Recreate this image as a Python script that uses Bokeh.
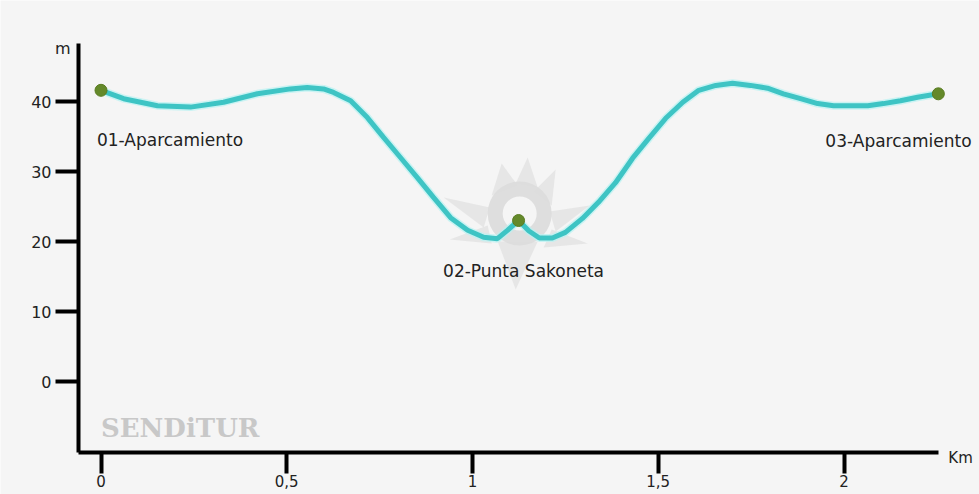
from bokeh.plotting import figure
from bokeh.models import Label, FixedTicker, Range1d, CustomJSTickFormatter
from bokeh.embed import file_html
from bokeh.resources import INLINE

# ---- data ----
dist_km = [0.000, 0.061, 0.152, 0.241, 0.330, 0.421, 0.510, 0.555, 0.599, 0.626,
           0.672, 0.717, 0.760, 0.806, 0.852, 0.895, 0.941, 0.987, 1.030, 1.067,
           1.094, 1.124, 1.152, 1.180, 1.215, 1.250, 1.296, 1.339, 1.385, 1.431,
           1.474, 1.520, 1.566, 1.609, 1.655, 1.700, 1.748, 1.794, 1.837, 1.883,
           1.929, 1.972, 2.018, 2.064, 2.106, 2.152, 2.198, 2.254]
elev_m = [41.6, 40.4, 39.4, 39.2, 39.9, 41.1, 41.8, 42.0, 41.8, 41.3,
          40.1, 37.7, 34.9, 32.0, 29.1, 26.3, 23.4, 21.6, 20.6, 20.4,
          21.6, 23.0, 21.5, 20.5, 20.5, 21.3, 23.3, 25.6, 28.4, 31.9,
          34.7, 37.6, 39.9, 41.6, 42.3, 42.6, 42.3, 41.9, 41.1, 40.4,
          39.7, 39.4, 39.4, 39.4, 39.7, 40.1, 40.6, 41.1]

wp_names = ["01-Aparcamiento", "02-Punta Sakoneta", "03-Aparcamiento"]
wp_km = [0.0, 1.124, 2.254]
wp_m = [41.6, 23.0, 41.1]

x_ticks = [0, 0.5, 1, 1.5, 2]
x_tick_labels = ["0", "0,5", "1", "1,5", "2"]
y_ticks = [0, 10, 20, 30, 40]
x_unit = "Km"
y_unit = "m"
watermark = "SENDiTUR"

# ---- layout: the frame fills the whole canvas, axes sit inside it ----
W, H = 979, 494
BG = "#f5f5f5"
px_per_km = 371.5
px_per_m = 7.0
x0_px, y0_px = 100.5, 381.0          # pixel position of (0 km, 0 m)
x_start = (0 - x0_px) / px_per_km
x_end = (W - x0_px) / px_per_km
y_start = (y0_px - H) / px_per_m
y_end = y0_px / px_per_m

x_axis_min, x_axis_max = -0.0606, 2.254
y_axis_min, y_axis_max = -10.14, 48.3

p = figure(width=W, height=H, output_backend="svg", toolbar_location=None,
           x_range=Range1d(x_start, x_end), y_range=Range1d(y_start, y_end),
           min_border=0, min_border_left=0, min_border_right=0,
           min_border_top=0, min_border_bottom=0)
p.background_fill_color = BG
p.border_fill_color = BG
p.outline_line_color = None
p.grid.visible = False

FONT = "DejaVu Sans"

for ax in (p.xaxis[0], p.yaxis[0]):
    ax.axis_line_width = 4
    ax.axis_line_color = "black"
    ax.major_tick_line_width = 4
    ax.major_tick_line_color = "black"
    ax.major_tick_in = 0
    ax.minor_tick_line_color = None
    ax.major_label_text_font = FONT
    ax.major_label_text_font_size = "16px"
    ax.major_label_text_color = "#222222"

xa = p.xaxis[0]
xa.ticker = FixedTicker(ticks=x_ticks)
xa.formatter = CustomJSTickFormatter(
    args=dict(tick_vals=x_ticks, tick_texts=x_tick_labels),
    code="""
    for (let i = 0; i < tick_vals.length; i++) {
        if (Math.abs(tick_vals[i] - tick) < 1e-9) return tick_texts[i];
    }
    return String(tick);
    """)
xa.major_tick_out = 21
xa.major_label_standoff = 2
xa.major_label_text_font_size = "15px"
xa.bounds = (x_axis_min, x_axis_max)
xa.fixed_location = y_axis_min

ya = p.yaxis[0]
ya.ticker = FixedTicker(ticks=y_ticks)
ya.major_tick_out = 23
ya.major_label_standoff = 4
ya.bounds = (y_axis_min, y_axis_max)
ya.fixed_location = x_axis_min

# ---- faint logo behind the middle waypoint ----
cx, cy = wp_km[1] + 0.003, wp_m[1] + 1.0
def px(dx, dy):
    return cx + dx / px_per_km, cy - dy / px_per_m
logo_shapes = [
    [(-28, -18), (-18, -50), (-2, -28)],
    [(-4, -30), (8, -56), (18, -26)],
    [(14, -22), (36, -44), (32, -8)],
    [(-30, -6), (-76, -16), (-36, 14)],
    [(-32, 12), (-70, 26), (-28, 30)],
    [(30, -2), (70, -8), (36, 18)],
    [(32, 16), (68, 30), (24, 34)],
    [(-22, 28), (-4, 76), (18, 28)],
]
xs, ys = [], []
for shp in logo_shapes:
    pts = [px(a, b) for a, b in shp]
    xs.append([q[0] for q in pts])
    ys.append([q[1] for q in pts])
p.patches(xs, ys, fill_color="#e3e3e3", line_color=None, fill_alpha=0.85)
p.annulus(x=[cx], y=[cy], inner_radius=17, outer_radius=32,
          inner_radius_units="screen", outer_radius_units="screen",
          fill_color="#dcdcdc", line_color=None, fill_alpha=0.9)

# ---- profile line ----
p.line(dist_km, elev_m, line_width=8, line_color="#b8f2f2", line_alpha=0.7)
p.line(dist_km, elev_m, line_width=5, line_color="#3ec4c4")

# ---- waypoints ----
p.scatter(wp_km, wp_m, size=12, fill_color="#64892a", line_color="#5a7d22")

label_styles = [("center", 69, 50), ("center", 5, 50), ("left", -113, 47)]
for name, xk, ym, (al, dx, dy) in zip(wp_names, wp_km, wp_m, label_styles):
    p.add_layout(Label(x=xk, y=ym, text=name, text_align=al,
                       text_baseline="alphabetic",
                       x_offset=dx, y_offset=-dy, text_font=FONT,
                       text_font_size="17px", text_color="#222222"))

# unit labels
p.add_layout(Label(x=x_axis_max, y=y_axis_min, text=x_unit, text_align="left",
                   text_baseline="middle", x_offset=10, y_offset=-6,
                   text_font=FONT, text_font_size="15px", text_color="#222222"))
p.add_layout(Label(x=x_axis_min, y=y_axis_max, text=y_unit, text_align="right",
                   text_baseline="middle", x_offset=-8, y_offset=-5,
                   text_font=FONT, text_font_size="16px", text_color="#222222"))

# watermark
p.add_layout(Label(x=0.0, y=-6.6, text=watermark, text_align="left",
                   text_baseline="alphabetic", text_font="DejaVu Serif",
                   text_font_style="bold", text_font_size="26px",
                   text_color="#c8c8c8"))

open("out.html", "w").write(file_html(p, INLINE))
